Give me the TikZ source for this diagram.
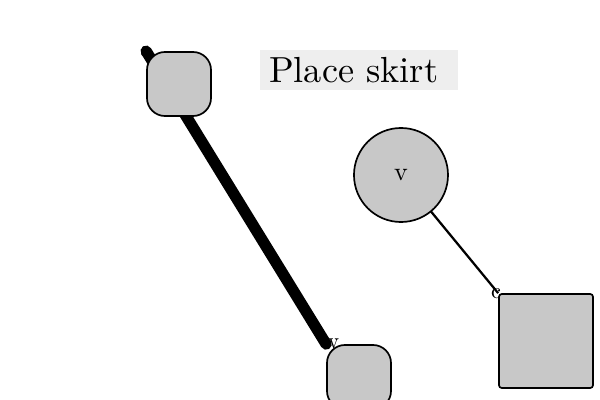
\documentclass[tikz,border=0pt]{standalone}
\usetikzlibrary{backgrounds}
\definecolor{nodegray}{HTML}{C8C8C8}
\definecolor{boxgray}{HTML}{EEEEEE}
\begin{document}
\begin{tikzpicture}[x=0.025cm,y=-0.025cm,
  softbox/.style={draw=black,line width=1.2pt,fill=nodegray,rounded corners=0.45cm,
    minimum width=1.6cm,minimum height=1.6cm,inner sep=0pt},
  roundnode/.style={draw=black,line width=1.2pt,fill=nodegray,circle,
    minimum size=2.35cm,inner sep=0pt},
  squarenode/.style={draw=black,line width=1.2pt,fill=nodegray,rounded corners=2pt,
    minimum width=2.35cm,minimum height=2.35cm,inner sep=0pt},
  tag/.style={inner sep=0pt},
  heavy/.style={line width=8pt,line cap=round},
  thin/.style={line width=1.6pt}]
\useasboundingbox (0,0) rectangle (600,400);
% title box
\node[fill=boxgray,minimum width=4.95cm,minimum height=0.98cm,inner xsep=0.23cm,
  inner ysep=0pt,text width=4.49cm,align=left] (title) at (359,70)
  {\scalebox{2.58}{Place skirt}};
% shapes
\node[softbox] (a) at (179,84) {};
\node[softbox] (w) at (359,377) {};
\node[roundnode] (v) at (401,175) {\scalebox{1.85}{v}};
\node[squarenode] (c) at (546,341) {};
% connectors, drawn behind the shapes
\begin{scope}[on background layer]
  \draw[heavy] (a.north west) -- (w.north west);
  \draw[thin] (v.center) -- (c.north west);
\end{scope}
% corner tags
\node[tag] (ta) at (a.north west) {\scalebox{1.6}{a}};
\node[tag] (tw) at ([xshift=0.12cm]w.north west) {\scalebox{1.6}{w}};
\node[tag] (tc) at ([xshift=-0.05cm]c.north west) {\scalebox{1.6}{c}};
\end{tikzpicture}
\end{document}
